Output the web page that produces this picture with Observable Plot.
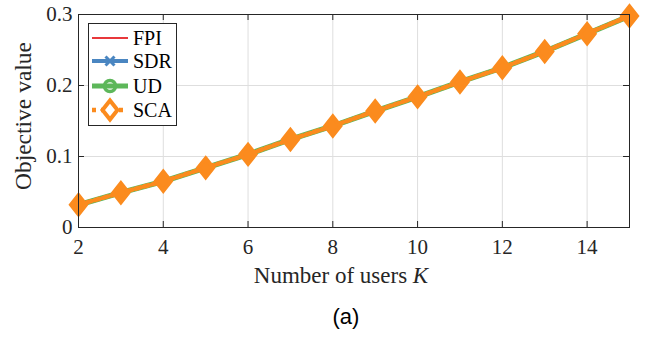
<!DOCTYPE html>
<html>
<head>
<meta charset="utf-8">
<script src="https://cdn.jsdelivr.net/npm/d3@7"></script>
<script src="https://cdn.jsdelivr.net/npm/@observablehq/plot@0.6"></script>
<style>
  html, body { margin: 0; padding: 0; background: #fff; }
  #wrap { width: 672px; height: 341px; position: relative; overflow: hidden; }
  #caption { position: absolute; left: 0; top: 304px; width: 672px; text-align: center;
    font-family: "Liberation Sans", Arial, sans-serif; font-size: 22px; color: #000; padding-left: 20px; box-sizing: border-box; }
</style>
</head>
<body>
<div id="wrap"><div id="chart"></div><div id="caption">(a)</div></div>
<script>
// ---- data ----
const users = [2, 3, 4, 5, 6, 7, 8, 9, 10, 11, 12, 13, 14, 15];
const fpi = [0.032, 0.049, 0.065, 0.084, 0.103, 0.124, 0.143, 0.164, 0.184, 0.205, 0.225, 0.248, 0.273, 0.298];
const sdr = [0.032, 0.049, 0.065, 0.084, 0.103, 0.124, 0.143, 0.164, 0.184, 0.205, 0.225, 0.248, 0.273, 0.298];
const ud  = [0.032, 0.049, 0.065, 0.084, 0.103, 0.124, 0.143, 0.164, 0.184, 0.205, 0.225, 0.248, 0.273, 0.298];
const sca = [0.032, 0.049, 0.065, 0.084, 0.103, 0.124, 0.143, 0.164, 0.184, 0.205, 0.225, 0.248, 0.273, 0.298];
const seriesNames = ["FPI", "SDR", "UD", "SCA"];
const xTicks = [2, 4, 6, 8, 10, 12, 14];
const yTicks = [0, 0.1, 0.2, 0.3];
const yTickLabels = ["0", "0.1", "0.2", "0.3"];

const colors = { FPI: "#e8383b", SDR: "#4a86c1", UD: "#5db75a", SCA: "#fb8b1e" };

const rows = (vals, name) => users.map((k, i) => ({ k, v: vals[i], name }));
const dFPI = rows(fpi, "FPI"), dSDR = rows(sdr, "SDR"), dUD = rows(ud, "UD"), dSCA = rows(sca, "SCA");

const diamond = {
  draw(ctx) { const hw = 7.5, hh = 9.5;
    ctx.moveTo(0, -hh); ctx.lineTo(hw, 0); ctx.lineTo(0, hh); ctx.lineTo(-hw, 0); ctx.closePath(); }
};
const cross = {
  draw(ctx) { const s = 4.5;
    ctx.moveTo(-s, -s); ctx.lineTo(s, s); ctx.moveTo(-s, s); ctx.lineTo(s, -s); }
};

const axisColor = "#262626";
const serif = "'Liberation Serif', 'DejaVu Serif', serif";
const tx = 6 / 42.4, ty = 0.3 / 213 * 6;

const plot = Plot.plot({
  width: 672, height: 295,
  marginLeft: 78, marginRight: 43, marginTop: 14, marginBottom: 68,
  style: { fontFamily: serif, fontSize: "21px", color: axisColor, background: "transparent" },
  x: { domain: [2, 15], axis: null },
  y: { domain: [0, 0.3], axis: null },
  marks: [
    Plot.ruleX(xTicks, { x: d => d, stroke: "#dedede", strokeWidth: 1 }),
    Plot.ruleY([0.1, 0.2], { y: d => d, stroke: "#dedede", strokeWidth: 1 }),
    // inward ticks
    Plot.ruleX(xTicks, { x: d => d, y1: 0, y2: ty, stroke: axisColor }),
    Plot.ruleX(xTicks, { x: d => d, y1: 0.3 - ty, y2: 0.3, stroke: axisColor }),
    Plot.ruleY(yTicks, { y: d => d, x1: 2, x2: 2 + tx, stroke: axisColor }),
    Plot.ruleY(yTicks, { y: d => d, x1: 15 - tx, x2: 15, stroke: axisColor }),
    // tick labels
    Plot.text(xTicks, { x: d => d, y: 0, text: d => String(d), dy: 12, lineAnchor: "top",
      fontSize: 21, fontFamily: serif, fill: axisColor }),
    Plot.text(yTicks, { x: 2, y: d => d, text: (d, i) => yTickLabels[i], dx: -6, textAnchor: "end",
      lineAnchor: "middle", fontSize: 21, fontFamily: serif, fill: axisColor }),
    // series
    Plot.line(dFPI, { x: "k", y: "v", stroke: colors.FPI, strokeWidth: 2 }),
    Plot.line(dSDR, { x: "k", y: "v", stroke: colors.SDR, strokeWidth: 4 }),
    Plot.dot(dSDR, { x: "k", y: "v", stroke: colors.SDR, strokeWidth: 3, symbol: cross, r: 5 }),
    Plot.line(dUD, { x: "k", y: "v", stroke: colors.UD, strokeWidth: 5.5 }),
    Plot.dot(dUD, { x: "k", y: "v", stroke: colors.UD, strokeWidth: 3.5, r: 5.5, fill: "none" }),
    Plot.line(dSCA, { x: "k", y: "v", stroke: colors.SCA, strokeWidth: 4.5, strokeDasharray: "5,3.5" }),
    Plot.dot(dSCA, { x: "k", y: "v", stroke: colors.SCA, strokeWidth: 4, symbol: diamond, fill: colors.SCA }),
    Plot.frame({ stroke: axisColor, strokeWidth: 1 })
  ]
});

document.getElementById("chart").appendChild(plot);
const svg = d3.select(plot);
svg.selectAll("text").style("font-family", serif);

// axis titles
svg.append("text")
  .attr("x", 341).attr("y", 283).attr("text-anchor", "middle")
  .style("font-family", serif).attr("font-size", 23).attr("fill", axisColor)
  .call(t => { t.append("tspan").text("Number of users "); t.append("tspan").attr("font-style", "italic").text("K"); });
svg.append("text")
  .attr("transform", "translate(31,116) rotate(-90)").attr("text-anchor", "middle")
  .style("font-family", serif).attr("font-size", 23.5).attr("fill", axisColor)
  .text("Objective value");

// legend
const lg = svg.append("g");
lg.append("rect").attr("x", 88.5).attr("y", 23.5).attr("width", 88).attr("height", 102)
  .attr("fill", "#fff").attr("stroke", axisColor).attr("stroke-width", 1);
const legendY = [38, 61, 86, 110];
seriesNames.forEach((name, i) => {
  const y = legendY[i], c = colors[name];
  const g = lg.append("g");
  if (name === "FPI") g.append("line").attr("x1", 92).attr("x2", 128).attr("y1", y).attr("y2", y).attr("stroke", c).attr("stroke-width", 2);
  if (name === "SDR") {
    g.append("line").attr("x1", 92).attr("x2", 128).attr("y1", y).attr("y2", y).attr("stroke", c).attr("stroke-width", 4);
    g.append("path").attr("d", `M105.5,${y - 4.5}L114.5,${y + 4.5}M105.5,${y + 4.5}L114.5,${y - 4.5}`).attr("stroke", c).attr("stroke-width", 3).attr("fill", "none");
  }
  if (name === "UD") {
    g.append("line").attr("x1", 92).attr("x2", 128).attr("y1", y).attr("y2", y).attr("stroke", c).attr("stroke-width", 5);
    g.append("circle").attr("cx", 110).attr("cy", y).attr("r", 5.5).attr("stroke", c).attr("stroke-width", 3.5).attr("fill", "none");
  }
  if (name === "SCA") {
    g.append("line").attr("x1", 92).attr("x2", 128).attr("y1", y).attr("y2", y).attr("stroke", c).attr("stroke-width", 4.5).attr("stroke-dasharray", "4,5");
    g.append("path").attr("d", `M110,${y - 9.5}L117.5,${y}L110,${y + 9.5}L102.5,${y}Z`).attr("stroke", c).attr("stroke-width", 4).attr("fill", "#fff");
  }
  lg.append("text").attr("x", 133).attr("y", y).attr("dy", "0.35em").attr("text-anchor", "start")
    .style("font-family", serif).attr("font-size", 20).attr("fill", "#000").text(name);
});
</script>
</body>
</html>
